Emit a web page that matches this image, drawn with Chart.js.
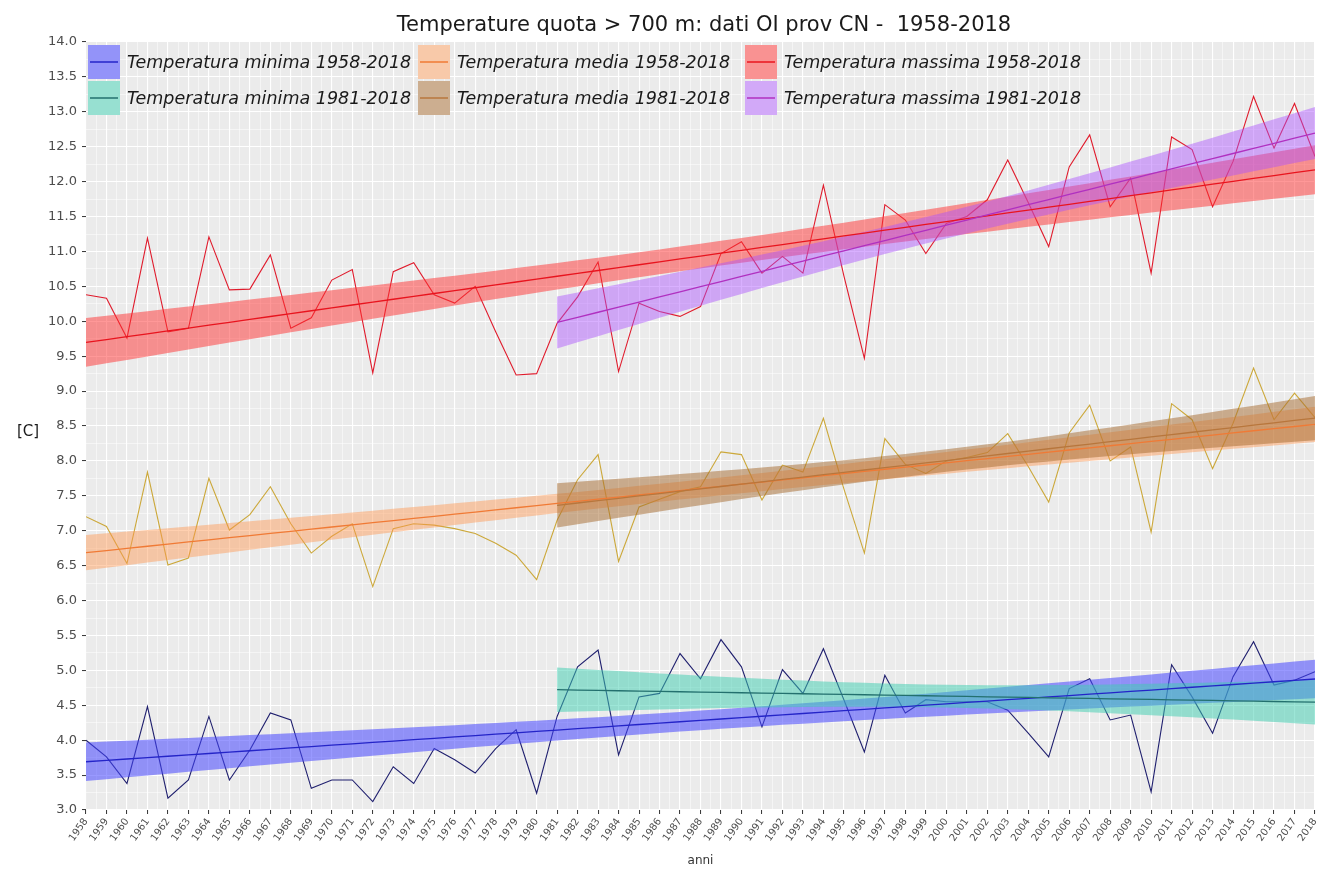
<!DOCTYPE html>
<html>
<head>
<meta charset="utf-8">
<title>Temperature quota &gt; 700 m</title>
<script src="https://cdn.jsdelivr.net/npm/chart.js@4/dist/chart.umd.min.js"></script>
<style>
  html, body { margin: 0; padding: 0; background: #ffffff; }
  #wrap { width: 1321px; height: 871px; }
</style>
</head>
<body>
<div id="wrap"><canvas id="temp-chart" width="1321" height="871"></canvas></div>
<script>
const years = [
    1958, 1959, 1960, 1961, 1962, 1963, 1964, 1965, 1966, 1967,
    1968, 1969, 1970, 1971, 1972, 1973, 1974, 1975, 1976, 1977,
    1978, 1979, 1980, 1981, 1982, 1983, 1984, 1985, 1986, 1987,
    1988, 1989, 1990, 1991, 1992, 1993, 1994, 1995, 1996, 1997,
    1998, 1999, 2000, 2001, 2002, 2003, 2004, 2005, 2006, 2007,
    2008, 2009, 2010, 2011, 2012, 2013, 2014, 2015, 2016, 2017,
    2018
];

// temperatura massima
const tMax = [
    10.38, 10.33, 9.76, 11.19, 9.85, 9.90, 11.21, 10.45, 10.46, 10.95,
    9.90, 10.05, 10.59, 10.74, 9.26, 10.71, 10.84, 10.38, 10.26, 10.50,
    9.85, 9.23, 9.25, 9.97, 10.35, 10.85, 9.28, 10.26, 10.14, 10.07,
    10.21, 10.97, 11.14, 10.69, 10.93, 10.69, 11.95, 10.65, 9.47, 11.67,
    11.45, 10.97, 11.40, 11.50, 11.74, 12.31, 11.70, 11.07, 12.21, 12.67,
    11.64, 12.05, 10.69, 12.64, 12.46, 11.64, 12.29, 13.22, 12.48, 13.12,
    12.36
];

// temperatura media
const tMean = [
    7.20, 7.06, 6.53, 7.84, 6.51, 6.61, 7.75, 7.01, 7.23, 7.63,
    7.10, 6.68, 6.92, 7.10, 6.20, 7.03, 7.10, 7.08, 7.03, 6.96,
    6.82, 6.65, 6.30, 7.15, 7.73, 8.09, 6.56, 7.34, 7.45, 7.56,
    7.63, 8.13, 8.09, 7.44, 7.94, 7.84, 8.61, 7.60, 6.68, 8.32,
    7.95, 7.82, 8.00, 8.05, 8.12, 8.39, 7.92, 7.41, 8.40, 8.80,
    8.00, 8.20, 6.98, 8.82, 8.59, 7.89, 8.54, 9.33, 8.59, 8.97,
    8.62
];

// temperatura minima
const tMin = [
    4.00, 3.76, 3.38, 4.48, 3.17, 3.43, 4.34, 3.43, 3.86, 4.39,
    4.29, 3.31, 3.43, 3.43, 3.12, 3.62, 3.38, 3.88, 3.72, 3.53,
    3.88, 4.15, 3.24, 4.34, 5.05, 5.29, 3.79, 4.62, 4.67, 5.24,
    4.88, 5.44, 5.05, 4.19, 5.01, 4.67, 5.31, 4.58, 3.83, 4.93,
    4.39, 4.58, 4.55, 4.55, 4.55, 4.43, 4.10, 3.76, 4.74, 4.88,
    4.29, 4.36, 3.26, 5.08, 4.62, 4.10, 4.91, 5.41, 4.79, 4.86,
    4.98
];

const yTickMin = 3.0;
const yTickMax = 14.0;

const chartTitle = 'Temperature quota > 700 m: dati OI prov CN -  1958-2018';
const yAxisTitle = '[C]';
const xAxisTitle = 'anni';

// linear fit + 95% confidence band, like geom_smooth(method = "lm")
function lmBand(xs, ys) {
    const n = xs.length;
    const mx = xs.reduce((a, b) => a + b, 0) / n;
    const my = ys.reduce((a, b) => a + b, 0) / n;
    let sxx = 0, sxy = 0;
    xs.forEach((x, i) => { sxx += (x - mx) ** 2; sxy += (x - mx) * (ys[i] - my); });
    const b = sxy / sxx;
    const a = my - b * mx;
    let sse = 0;
    xs.forEach((x, i) => { const r = ys[i] - (a + b * x); sse += r * r; });
    const s = Math.sqrt(sse / (n - 2));
    const t = n > 50 ? 2.00 : 2.03;
    return xs.map(x => {
        const f = a + b * x;
        const se = s * Math.sqrt(1 / n + (x - mx) ** 2 / sxx);
        return { x, fit: f, lo: f - t * se, hi: f + t * se };
    });
}

const rawSeries = [
    { values: tMin, color: '#1f1f6e' },
    { values: tMean, color: '#cca83a' },
    { values: tMax, color: '#e01b2c' }
];

const trendSeries = [
    { label: 'Temperatura minima 1958-2018', values: tMin, from: 1958, line: '#2424c8', band: 'rgba(70,70,255,0.55)' },
    { label: 'Temperatura minima 1981-2018', values: tMin, from: 1981, line: '#23706e', band: 'rgba(60,205,175,0.5)' },
    { label: 'Temperatura media 1958-2018', values: tMean, from: 1958, line: '#f07a35', band: 'rgba(255,150,80,0.45)' },
    { label: 'Temperatura media 1981-2018', values: tMean, from: 1981, line: '#b8763c', band: 'rgba(165,105,45,0.5)' },
    { label: 'Temperatura massima 1958-2018', values: tMax, from: 1958, line: '#e8141e', band: 'rgba(255,50,50,0.5)' },
    { label: 'Temperatura massima 1981-2018', values: tMax, from: 1981, line: '#b030c0', band: 'rgba(170,80,255,0.45)' }
];

function buildDatasets() {
    const ds = [];
    rawSeries.forEach(s => {
        ds.push({
            data: years.map((y, i) => ({ x: y, y: s.values[i] })),
            borderColor: s.color,
            borderWidth: 1.1,
            pointRadius: 0,
            tension: 0,
            fill: false
        });
    });
    const fits = trendSeries.map(s => {
        const start = years.indexOf(s.from);
        return lmBand(years.slice(start), s.values.slice(start));
    });
    trendSeries.forEach((s, k) => {
        const band = fits[k];
        const hiIndex = ds.length;
        ds.push({
            data: band.map(p => ({ x: p.x, y: p.hi })),
            borderWidth: 0,
            borderColor: 'rgba(0,0,0,0)',
            pointRadius: 0,
            fill: false
        });
        ds.push({
            data: band.map(p => ({ x: p.x, y: p.lo })),
            borderWidth: 0,
            borderColor: 'rgba(0,0,0,0)',
            backgroundColor: s.band,
            pointRadius: 0,
            fill: { target: hiIndex }
        });
    });
    trendSeries.forEach((s, k) => {
        ds.push({
            data: fits[k].map(p => ({ x: p.x, y: p.fit })),
            borderColor: s.line,
            borderWidth: 1.3,
            pointRadius: 0,
            fill: false
        });
    });
    // first in the array is painted first
    ds.forEach((d, i) => { d.order = -i; });
    return ds;
}

const decor = {
    id: 'decor',
    beforeDraw(chart) {
        const { ctx, chartArea: a } = chart;
        ctx.save();
        ctx.fillStyle = '#ebebeb';
        ctx.fillRect(a.left, a.top, a.right - a.left, a.bottom - a.top);
        ctx.restore();
    },
    afterDraw(chart) {
        const { ctx, chartArea: a } = chart;
        ctx.save();
        ctx.fillStyle = '#1a1a1a';
        ctx.textBaseline = 'middle';
        ctx.textAlign = 'center';
        ctx.font = '21px "DejaVu Sans"';
        ctx.fillText(chartTitle, 704, 26);

        ctx.font = '15px "DejaVu Sans"';
        ctx.fillText(yAxisTitle, 28, 432);

        ctx.font = '12px "DejaVu Sans"';
        ctx.fillStyle = '#333';
        ctx.fillText(xAxisTitle, (a.left + a.right) / 2, 861);

        // legend, 2 rows x 3 columns, inside the panel
        const colX = [88, 418, 745];
        const rowY = [45, 81];
        const order = [0, 2, 4, 1, 3, 5];
        ctx.textAlign = 'left';
        ctx.font = 'italic 17.5px "DejaVu Sans"';
        order.forEach((k, pos) => {
            const s = trendSeries[k];
            const x = colX[pos % 3];
            const y = rowY[Math.floor(pos / 3)];
            ctx.fillStyle = '#f2f2f2';
            ctx.fillRect(x, y, 32, 34);
            ctx.fillStyle = s.band;
            ctx.fillRect(x, y, 32, 34);
            ctx.strokeStyle = s.line;
            ctx.lineWidth = 1.5;
            ctx.beginPath();
            ctx.moveTo(x + 2, y + 17);
            ctx.lineTo(x + 30, y + 17);
            ctx.stroke();
            ctx.fillStyle = '#1a1a1a';
            ctx.fillText(s.label, x + 39, y + 18);
        });
        ctx.restore();
    }
};

const isHalf = v => Math.abs(v * 2 - Math.round(v * 2)) < 1e-9;

function initChart() {
    const ctx = document.getElementById('temp-chart');
    new Chart(ctx, {
        type: 'line',
        data: { datasets: buildDatasets() },
        options: {
            responsive: false,
            animation: false,
            devicePixelRatio: 1,
            events: [],
            layout: { padding: { top: 42, right: 6, left: 0, bottom: 0 } },
            plugins: {
                legend: { display: false },
                title: { display: false },
                tooltip: { enabled: false }
            },
            scales: {
                x: {
                    type: 'linear',
                    min: years[0],
                    max: years[years.length - 1],
                    afterFit: s => {
                        s.height = 61;
                        s.paddingLeft = 0;
                        s.paddingRight = 0;
                    },
                    border: { display: false },
                    grid: {
                        color: '#ffffff',
                        lineWidth: c => Number.isInteger(c.tick.value) ? 1.1 : 0.5,
                        tickColor: c => Number.isInteger(c.tick.value) ? '#333333' : 'rgba(0,0,0,0)',
                        tickLength: 4,
                        tickWidth: 1
                    },
                    ticks: {
                        stepSize: 0.5,
                        autoSkip: false,
                        minRotation: 55,
                        maxRotation: 55,
                        padding: 2,
                        color: '#4d4d4d',
                        font: { family: 'DejaVu Sans', size: 10 },
                        callback: v => Number.isInteger(v) ? String(v) : ''
                    }
                },
                y: {
                    min: yTickMin,
                    max: yTickMax,
                    afterFit: s => {
                        s.width = 86;
                        s.paddingTop = 0;
                        s.paddingBottom = 0;
                    },
                    border: { display: false },
                    grid: {
                        color: '#ffffff',
                        lineWidth: c => isHalf(c.tick.value) ? 1.1 : 0.5,
                        tickColor: c => isHalf(c.tick.value) ? '#333333' : 'rgba(0,0,0,0)',
                        tickLength: 4,
                        tickWidth: 1
                    },
                    ticks: {
                        stepSize: 0.25,
                        autoSkip: false,
                        padding: 5,
                        color: '#4d4d4d',
                        font: { family: 'DejaVu Sans', size: 13 },
                        callback: v => isHalf(v) ? v.toFixed(1) : ''
                    }
                }
            }
        },
        plugins: [decor]
    });
}

initChart();
</script>
</body>
</html>
